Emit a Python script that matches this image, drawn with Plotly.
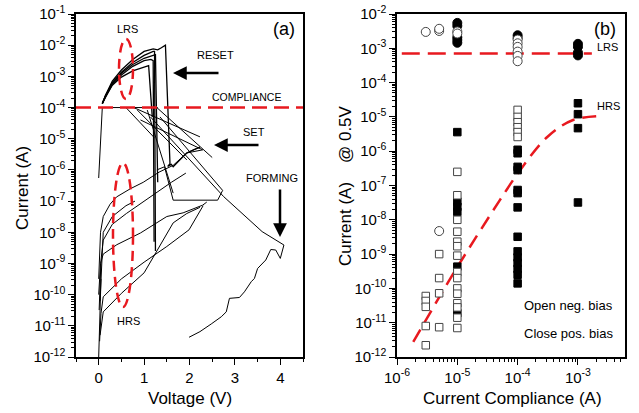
import plotly.graph_objects as go

# ---------------- Panel (a): I-V sweeps (V in volts, I in amperes) ----------------
lrs1_v = [0.08, 0.15, 0.3, 0.5, 0.75, 1.0, 1.2, 1.3, 1.38, 1.44, 1.47, 1.57, 1.52, 1.6, 1.64, 1.8, 1.94, 2.1, 2.23]
lrs1_i = [1.35e-4, 2.5e-4, 7.1e-4, 1.6e-3, 3.5e-3, 6.3e-3, 7.6e-3, 7.1e-3, 8.3e-3, 9.3e-3, 1.0e-2, 1.6e-6, 1.3e-6, 1.5e-6, 1.26e-6, 2.2e-6, 3.5e-6, 4.5e-6, 5.4e-6]
lrs2_v = [0.08, 0.15, 0.3, 0.5, 0.75, 1.0, 1.2, 1.23, 1.25]
lrs2_i = [1.35e-4, 2.4e-4, 6.3e-4, 1.35e-3, 2.8e-3, 4.7e-3, 6.3e-3, 6.3e-3, 2.5e-9]
lrs3_v = [0.08, 0.15, 0.3, 0.5, 0.75, 1.0, 1.15, 1.2, 1.22]
lrs3_i = [1.35e-4, 2.2e-4, 5.6e-4, 1.1e-3, 2.1e-3, 3.2e-3, 3.5e-3, 3.2e-3, 5e-9]
lrs4_v = [0.08, 0.15, 0.3, 0.5, 0.75, 1.0, 1.1, 1.18]
lrs4_i = [1.35e-4, 2.2e-4, 5.2e-4, 9.5e-4, 1.5e-3, 2.0e-3, 2.2e-3, 5e-5]
lrs5_v = [0.08, 0.15, 0.3, 0.5, 0.75, 1.0, 1.25, 1.3]
lrs5_i = [1.35e-4, 2.4e-4, 6.0e-4, 1.26e-3, 2.4e-3, 3.8e-3, 5.0e-3, 4e-7]

comp_v = [0.08, 1.3]
comp_i = [1e-4, 1e-4]
jump_v = [0.0, 0.08]
jump_i = [5.5e-7, 1.05e-4]

hrs1_v = [0.03, 0.06, 0.1, 0.5, 1.0, 1.28, 1.64, 1.94, 2.23]
hrs1_i = [5e-12, 1.26e-11, 2.8e-11, 1.1e-10, 5e-10, 2.5e-9, 2e-8, 4e-8, 6.3e-8]
hrs2_v = [0.02, 0.05, 0.1, 0.5, 1.0, 1.5, 1.99, 2.3]
hrs2_i = [3.2e-12, 2.5e-11, 8.5e-11, 3.2e-10, 1.1e-9, 3.5e-9, 1.2e-8, 7.1e-8]
hrs3_v = [0.0, 0.04, 0.1, 0.4, 0.92, 1.28, 1.5, 1.86, 2.29, 2.38]
hrs3_i = [1e-10, 1e-9, 2e-9, 4e-9, 9.5e-9, 2e-8, 3.2e-8, 4.2e-8, 7.4e-8, 9.3e-8]
hrs4_v = [0.01, 0.05, 0.1, 0.3, 0.61, 1.0, 1.27, 1.6, 1.92]
hrs4_i = [3.2e-11, 1.26e-9, 5.6e-9, 1.8e-8, 4e-8, 1e-7, 1.8e-7, 4e-7, 7.9e-7]
hrs5_v = [0.0, 0.04, 0.1, 0.25, 0.39, 0.7, 0.98, 1.33, 1.64, 1.94, 2.23]
hrs5_i = [3.2e-10, 1e-8, 3.2e-8, 7.9e-8, 1.35e-7, 2.5e-7, 4e-7, 8.5e-7, 1.4e-6, 3.5e-6, 5.4e-6]
hrs6_v = [0.03, 0.1, 0.3, 0.6, 0.8]
hrs6_i = [6.3e-11, 1e-8, 3.2e-8, 7.1e-8, 1e-7]
bottom_v = [0.0, 0.02, 0.05]
bottom_i = [1e-12, 1e-11, 3.2e-10]

set1_v = [0.6, 1.22]
set1_i = [1e-4, 1.1e-5]
set2_v = [0.77, 2.23]
set2_i = [1e-4, 1.15e-5]
set3_v = [0.85, 1.94]
set3_i = [8.3e-5, 2.1e-6]
set4_v = [1.14, 2.0, 2.75, 3.6, 4.08]
set4_i = [5e-5, 2.2e-6, 1.4e-7, 1.05e-8, 3.9e-9]
set5_v = [1.35, 2.73, 2.62, 1.64, 1.45, 1.28]
set5_i = [5e-5, 2.2e-7, 1.07e-7, 1.07e-7, 1.26e-6, 1e-6]
set6_v = [1.28, 2.5]
set6_i = [1e-4, 2.5e-6]
set7_v = [1.07, 1.64]
set7_i = [8.3e-5, 1.8e-7]
set8_v = [0.92, 2.29, 1.94]
set8_i = [4e-5, 4.4e-6, 3.5e-6]

forming_v = [1.99, 2.23, 2.48, 2.70, 2.81, 2.88, 3.10, 3.21, 3.36, 3.43, 3.50, 3.57, 3.68, 3.79, 3.90, 4.0, 4.08]
forming_i = [4.3e-12, 6.5e-12, 1.15e-11, 1.95e-11, 2.8e-11, 7.6e-11, 8.1e-11, 1.23e-10, 2.6e-10, 3.3e-10,
             6.9e-10, 8.9e-10, 1.29e-9, 2.8e-9, 2.7e-9, 1.45e-9, 3.9e-9]

compliance_level = 1e-4
volt_range = [-0.5, 4.5]

# ---------------- Panel (b): current at 0.5 V vs compliance ----------------
lrs_open_x = [3e-6, 5e-6, 5e-6, 1e-5, 1e-5, 1e-4, 1e-4, 1e-4, 1e-4, 1e-4, 1e-4, 5e-6]
lrs_open_i = [3.0e-3, 3.2e-3, 3.7e-3, 3.1e-3, 2.7e-3, 1.8e-3, 1.4e-3, 1.1e-3, 8e-4, 6e-4, 4.2e-4, 4.7e-9]
lrs_fill_x = [1e-5, 1e-5, 1e-5, 1e-5, 1e-5, 1e-4, 1e-4, 1e-3, 1e-3, 1e-3, 1e-3]
lrs_fill_i = [5.5e-3, 4.5e-3, 2.1e-3, 1.75e-3, 1.45e-3, 2.4e-3, 2.0e-3, 1.35e-3, 1.1e-3, 7.5e-4, 6.2e-4]

hrs_open_x = [3e-6] * 5 + [5e-6] * 4 + [1e-5] * 15 + [1e-4] * 6
hrs_open_i = [6e-11, 4.3e-11, 2.9e-11, 8e-12, 2.2e-12,
              1e-9, 2e-10, 7.2e-11, 7.4e-12,
              2.5e-7, 5.2e-8, 1e-8, 4.5e-9, 2.3e-9, 1.7e-9, 9e-10, 3e-10, 2e-10, 1e-10, 7e-11, 3.7e-11,
              2.8e-11, 1.4e-11, 7e-12,
              1.6e-5, 1.0e-5, 7e-6, 5e-6, 3.6e-6, 2.6e-6]
hrs_fill_x = [1e-5] * 6 + [1e-4] * 14 + [1e-3] * 4
hrs_fill_i = [3.6e-6, 3.4e-8, 2.4e-8, 1.7e-8, 4.3e-10, 1.9e-11,
              1.1e-6, 8.7e-7, 3.5e-7, 2.8e-7, 7.4e-8, 6e-8, 2.3e-8, 3.2e-9,
              1.2e-9, 8e-10, 5.5e-10, 3.7e-10, 2.5e-10, 1.4e-10,
              2.5e-5, 1.2e-5, 4.7e-6, 3.2e-8]

lrs_fit_x = [1.2e-6, 1.7e-3]
lrs_fit_i = [7e-4, 7e-4]
hrs_fit_x = [1.86e-6, 5.4e-6, 1.1e-5, 5.1e-5, 1.1e-4, 3.1e-4, 8.3e-4, 2.5e-3]
hrs_fit_i = [2.75e-12, 6.9e-11, 5.5e-10, 3.8e-8, 2.8e-7, 2.6e-6, 8.1e-6, 1.07e-5]

left_y_ticks = [10.0 ** e for e in range(-12, 0)]
left_y_text = ["10<sup>%d</sup>" % e for e in range(-12, 0)]
right_y_ticks = [10.0 ** e for e in range(-12, -1)]
right_y_text = ["10<sup>%d</sup>" % e for e in range(-12, -1)]
right_x_ticks = [1e-6, 1e-5, 1e-4, 1e-3]
right_x_text = ["10<sup>-6</sup>", "10<sup>-5</sup>", "10<sup>-4</sup>", "10<sup>-3</sup>"]

# ---------------- Figure ----------------
W, H = 639, 413
MT, MB = 14, 56
RED = "#e8191f"
FONT = "Liberation Sans, Arial, sans-serif"

fig = go.Figure()

thin_curves = [
    (bottom_v, bottom_i), (hrs1_v, hrs1_i), (hrs2_v, hrs2_i), (hrs3_v, hrs3_i), (hrs4_v, hrs4_i),
    (hrs5_v, hrs5_i), (hrs6_v, hrs6_i), (jump_v, jump_i), (comp_v, comp_i),
    (set1_v, set1_i), (set2_v, set2_i), (set3_v, set3_i), (set4_v, set4_i), (set5_v, set5_i),
    (set6_v, set6_i), (set7_v, set7_i), (set8_v, set8_i), (forming_v, forming_i),
]
lrs_curves = [(lrs1_v, lrs1_i), (lrs2_v, lrs2_i), (lrs3_v, lrs3_i), (lrs4_v, lrs4_i), (lrs5_v, lrs5_i)]
for v, i in thin_curves:
    fig.add_trace(go.Scatter(x=v, y=i, mode="lines", line=dict(color="black", width=1),
                             xaxis="x", yaxis="y", showlegend=False, hoverinfo="skip"))
for v, i in lrs_curves:
    fig.add_trace(go.Scatter(x=v, y=i, mode="lines", line=dict(color="black", width=1.3),
                             xaxis="x", yaxis="y", showlegend=False, hoverinfo="skip"))

fig.add_trace(go.Scatter(x=volt_range, y=[compliance_level, compliance_level], mode="lines",
                         line=dict(color=RED, width=2.5, dash="15px,7px"),
                         xaxis="x", yaxis="y", showlegend=False))

# Panel (b)
fig.add_trace(go.Scatter(x=lrs_fit_x, y=lrs_fit_i, mode="lines",
                         line=dict(color=RED, width=2.5, dash="18px,8px"),
                         xaxis="x2", yaxis="y2", showlegend=False))
fig.add_trace(go.Scatter(x=hrs_fit_x, y=hrs_fit_i, mode="lines", line_shape="spline",
                         line=dict(color=RED, width=2.5, dash="14px,8px"),
                         xaxis="x2", yaxis="y2", showlegend=False))
fig.add_trace(go.Scatter(x=lrs_fill_x, y=lrs_fill_i, mode="markers",
                         marker=dict(symbol="circle", size=9, color="black", line=dict(color="black", width=1)),
                         xaxis="x2", yaxis="y2", showlegend=False))
fig.add_trace(go.Scatter(x=lrs_open_x, y=lrs_open_i, mode="markers",
                         marker=dict(symbol="circle", size=9, color="white", line=dict(color="#444", width=1)),
                         xaxis="x2", yaxis="y2", showlegend=False))
fig.add_trace(go.Scatter(x=hrs_fill_x, y=hrs_fill_i, mode="markers",
                         marker=dict(symbol="square", size=7.5, color="black", line=dict(color="black", width=1)),
                         xaxis="x2", yaxis="y2", showlegend=False))
fig.add_trace(go.Scatter(x=hrs_open_x, y=hrs_open_i, mode="markers",
                         marker=dict(symbol="square", size=7.5, color="white", line=dict(color="#444", width=1)),
                         xaxis="x2", yaxis="y2", showlegend=False))


def px(x):
    return x / W


def py(y):
    return (H - MB - y) / (H - MT - MB)


def txt(s, x, y, size, angle=0):
    return dict(text=s, x=px(x), y=py(y), xref="paper", yref="paper", showarrow=False,
                xanchor="center", yanchor="middle", textangle=angle,
                font=dict(family=FONT, size=size, color="black"))


def arrow(hx, hy, tx, ty):
    return dict(text="", x=px(hx), y=py(hy), xref="paper", yref="paper", showarrow=True,
                ax=tx - hx, ay=ty - hy, axref="pixel", ayref="pixel",
                arrowhead=2, arrowsize=1.1, arrowwidth=2.5, arrowcolor="black", standoff=0)


annotations = [
    txt("(a)", 284, 29, 18), txt("LRS", 127, 29, 11), txt("RESET", 215, 55, 11),
    txt("COMPLIANCE", 247, 97, 10.5), txt("SET", 254, 132, 11), txt("FORMING", 272, 178, 11),
    txt("HRS", 128, 321, 11),
    txt("(b)", 605, 29, 18), txt("LRS", 607, 47, 11), txt("HRS", 608, 106, 11),
    txt("Open neg. bias", 568, 305, 13), txt("Close pos. bias", 568, 333, 13),
    txt("Voltage (V)", 190, 399, 17), txt("Current Compliance (A)", 512, 399, 17),
    txt("Current (A)", 22, 188, 17, -90),
    txt("Current (A)\u00a0\u00a0\u00a0 @ 0.5V", 345, 186, 17, -90),
    arrow(173, 73, 220, 73), arrow(214, 145, 260, 145), arrow(280, 237, 280, 188),
]

shapes = [
    dict(type="circle", xref="paper", yref="paper", x0=px(119), x1=px(133), y0=py(99), y1=py(39),
         line=dict(color=RED, width=2.5, dash="10px,6px")),
    dict(type="circle", xref="paper", yref="paper", x0=px(113), x1=px(133), y0=py(307), y1=py(163),
         line=dict(color=RED, width=2.5, dash="10px,6px")),
]

axis_common = dict(showline=True, mirror=True, linecolor="black", linewidth=1.5, showgrid=False,
                   zeroline=False, ticks="outside", ticklen=6, tickcolor="black", automargin=False,
                   tickfont=dict(family=FONT, size=15, color="black"))

left_minor_y = [m * 10.0 ** e for e in range(-12, -1) for m in range(2, 10)]
right_minor_y = [m * 10.0 ** e for e in range(-12, -2) for m in range(2, 10)]
right_minor_x = [m * 10.0 ** e for e in range(-6, -2) for m in range(2, 10) if m * 10.0 ** e < 6e-3]

fig.update_layout(
    width=W, height=H, margin=dict(l=0, r=0, t=MT, b=MB, autoexpand=False),
    paper_bgcolor="white", plot_bgcolor="white", showlegend=False,
    font=dict(family=FONT, color="black"),
    xaxis=dict(domain=[76 / W, 303 / W], range=volt_range, anchor="y", tickmode="linear", tick0=0, dtick=1,
               minor=dict(ticks="outside", ticklen=3, tickmode="linear", tick0=0, dtick=0.5, tickcolor="black"),
               **axis_common),
    yaxis=dict(domain=[0, 1], type="log", range=[-12, -1], anchor="x", tickvals=left_y_ticks + [0.1],
               ticktext=left_y_text + ["10<sup>-1</sup>"],
               minor=dict(ticks="outside", ticklen=3, tickvals=left_minor_y, tickcolor="black"),
               **axis_common),
    xaxis2=dict(domain=[397 / W, 625 / W], type="log", range=[-6, -2.22], anchor="y2",
                tickvals=right_x_ticks, ticktext=right_x_text,
                minor=dict(ticks="outside", ticklen=3, tickvals=right_minor_x, tickcolor="black"),
                **axis_common),
    yaxis2=dict(domain=[0, 1], type="log", range=[-12, -2], anchor="x2", tickvals=right_y_ticks + [1e-2],
                ticktext=right_y_text + ["10<sup>-2</sup>"],
                minor=dict(ticks="outside", ticklen=3, tickvals=right_minor_y, tickcolor="black"),
                **axis_common),
    annotations=annotations, shapes=shapes,
)

fig.write_html("out.html")
